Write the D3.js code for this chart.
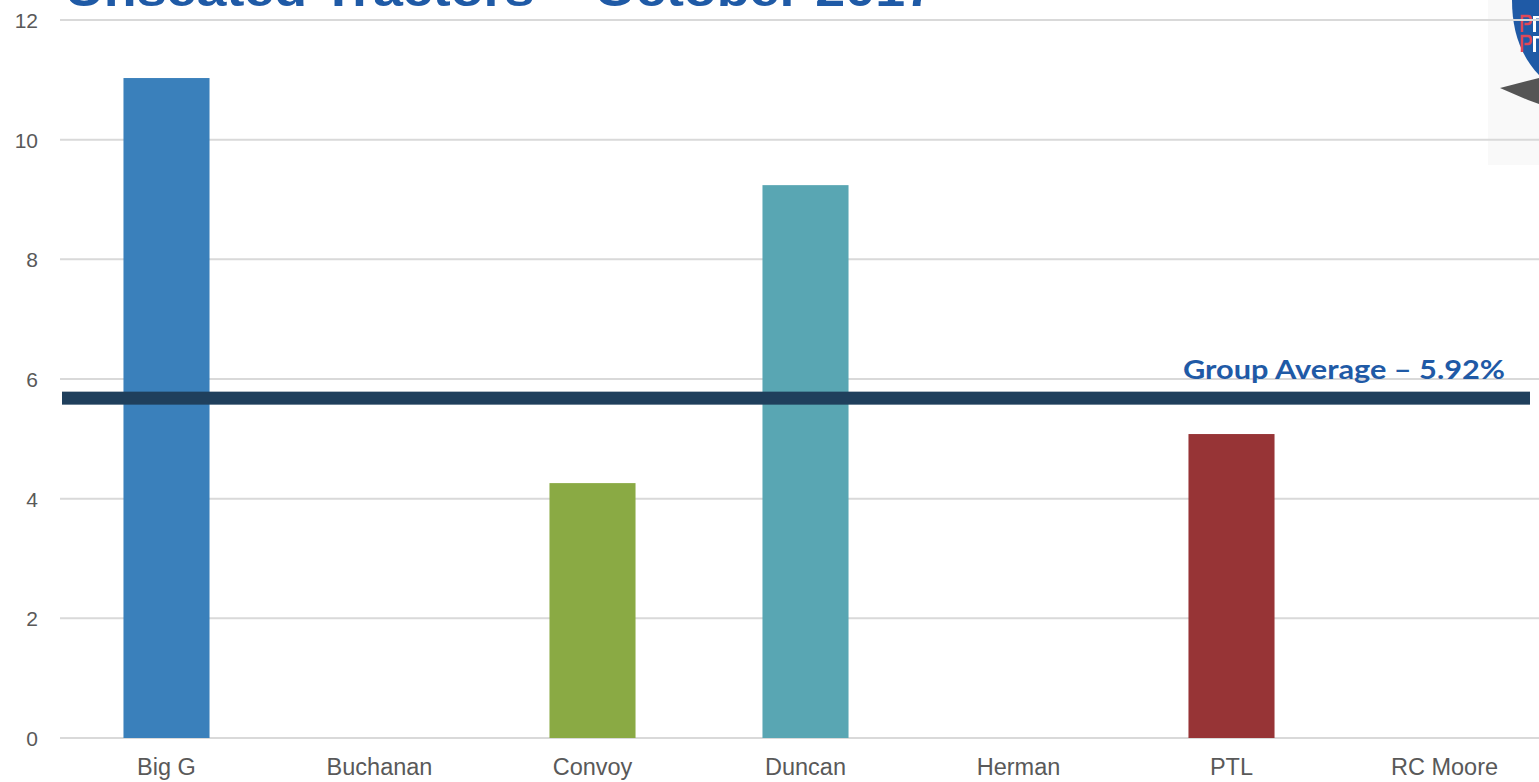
<!DOCTYPE html>
<html><head><meta charset="utf-8">
<script src="https://cdn.jsdelivr.net/npm/d3@7"></script>
<style>body{margin:0;background:#fff;overflow:hidden}</style>
</head><body>
<svg id="c" width="1539" height="782"></svg>
<script>
const categories = ["Big G","Buchanan","Convoy","Duncan","Herman","PTL","RC Moore"];
const values = [11.03, 0, 4.26, 9.24, 0, 5.08, 0];
const barColors = ["#3a80bb","#3a80bb","#8aaa44","#59a6b3","#59a6b3","#973436","#973436"];
const yTicks = [0,2,4,6,8,10,12];
const avgLinePos = 5.68;
const avgLabel = "Group Average \u2013 5.92%";
const title = "Unseated Tractors \u2013 October 2017";

const svg = d3.select("#c");
const x = d3.scaleBand().domain(categories).range([60, 1551]).paddingInner(0.596).paddingOuter(0.298);
const y = d3.scaleLinear().domain([0,12]).range([738, 20]);

// logo background
svg.append("rect").attr("x",1488).attr("y",0).attr("width",51).attr("height",165).attr("fill","#f9f9f9");

// gridlines
svg.append("g").selectAll("line").data(yTicks).join("line")
  .attr("x1",60).attr("x2",1539).attr("y1",d=>y(d)).attr("y2",d=>y(d))
  .attr("stroke","#d9d9d9").attr("stroke-width",2);

// y tick labels
svg.append("g").selectAll("text").data(yTicks).join("text")
  .attr("x",38).attr("y",d=>y(d)+8).attr("text-anchor","end")
  .attr("font-family","Liberation Sans, Arial, sans-serif").attr("font-size",21).attr("fill","#595959")
  .text(d=>d);

// bars
svg.append("g").selectAll("rect").data(values).join("rect")
  .attr("x",(d,i)=>x(categories[i])).attr("width",x.bandwidth())
  .attr("y",d=>y(d)).attr("height",d=>y(0)-y(d))
  .attr("fill",(d,i)=>barColors[i]);

// x labels
svg.append("g").selectAll("text").data(categories).join("text")
  .attr("x",d=>x(d)+x.bandwidth()/2).attr("y",775).attr("text-anchor","middle")
  .attr("font-family","Liberation Sans, Arial, sans-serif").attr("font-size",23.5).attr("fill","#595959")
  .text(d=>d);

// average line
svg.append("rect").attr("x",62).attr("width",1468).attr("y",y(avgLinePos)-6.5).attr("height",13).attr("fill","#1f3f5c");
svg.append("text").attr("x",1183).attr("y",379)
  .attr("font-family","Lato, 'Open Sans', sans-serif").attr("font-weight","bold").attr("font-size",27)
  .attr("fill","#1f5aa6").attr("textLength",322).attr("lengthAdjust","spacingAndGlyphs").text(avgLabel);

// title (cut off at top, as in the reference)
svg.append("text").attr("x",65).attr("y",6)
  .attr("font-family","Liberation Sans, Arial, sans-serif").attr("font-weight","bold").attr("font-size",46)
  .attr("fill","#1f5aa6").attr("textLength",870).attr("lengthAdjust","spacingAndGlyphs").text(title);

// logo approximation (image in the reference)
const logo = svg.append("g");
logo.append("path").attr("d","M1512,0 C1512,30 1520,55 1539,75 L1539,0 Z").attr("fill","#1f5aa6");
logo.append("path").attr("d","M1500,88 L1539,78 L1539,104 L1528,100 Z").attr("fill","#555");
const pShape = (x0,y0) => `M${x0},${y0+16} L${x0},${y0} L${x0+6},${y0} C${x0+10},${y0} ${x0+10},${y0+8} ${x0+6},${y0+8} L${x0+2.5},${y0+8}`;
[[1522,16],[1522,36]].forEach(([a,b])=>{
  logo.append("path").attr("d",pShape(a,b)).attr("fill","none").attr("stroke","#e04858").attr("stroke-width",2.5);
  logo.append("rect").attr("x",a+11).attr("y",b).attr("width",3).attr("height",16).attr("fill","#fff");
  logo.append("rect").attr("x",a+11).attr("y",b).attr("width",6).attr("height",2.5).attr("fill","#fff");
});
svg.append("line").attr("x1",1488).attr("x2",1539).attr("y1",y(12)).attr("y2",y(12)).attr("stroke","#d9d9d9").attr("stroke-width",2);
</script>
</body></html>
